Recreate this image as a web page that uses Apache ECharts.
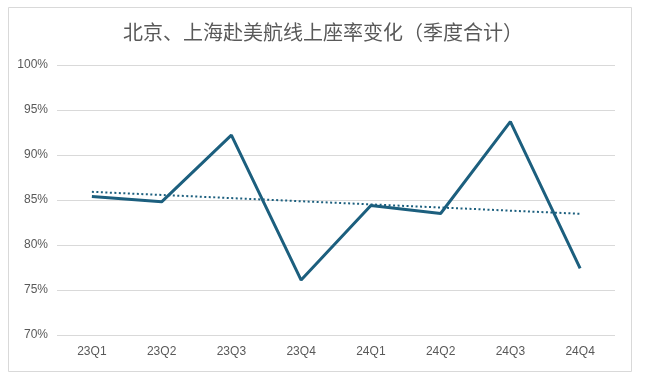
<!DOCTYPE html>
<html><head><meta charset="utf-8">
<script src="https://cdn.jsdelivr.net/npm/echarts@6/dist/echarts.min.js"></script>
<style>html,body{margin:0;padding:0;background:#fff}#c{width:646px;height:382px}</style>
</head><body><div id="c"></div>
<script>
const categories = ['23Q1','23Q2','23Q3','23Q4','24Q1','24Q2','24Q3','24Q4'];
const loadFactor = [85.4, 84.8, 92.2, 76.1, 84.4, 83.5, 93.7, 77.4];
const yTicks = [70, 75, 80, 85, 90, 95, 100];

// linear trendline (least squares) from the data, as in the original spreadsheet chart
const n = loadFactor.length;
const xm = (n + 1) / 2;
const ym = loadFactor.reduce((a, b) => a + b, 0) / n;
let sxy = 0, sxx = 0;
loadFactor.forEach((v, i) => { const dx = (i + 1) - xm; sxy += dx * v; sxx += dx * dx; });
const slope = sxy / sxx;
const trend = loadFactor.map((v, i) => +(ym + slope * ((i + 1) - xm)).toFixed(3));

const chart = echarts.init(document.getElementById('c'), null, {renderer: 'canvas'});
const font = '"Noto Sans CJK SC", "Noto Sans", sans-serif';
chart.setOption({
  animation: false,
  backgroundColor: '#ffffff',
  title: {
    text: '北京、上海赴美航线上座率变化（季度合计）',
    left: 'center', top: 17,
    textStyle: {color: '#595959', fontSize: 20, fontWeight: 'normal', fontFamily: font}
  },
  graphic: [{
    type: 'rect', shape: {x: 8.5, y: 7.5, width: 623, height: 364},
    style: {fill: 'none', stroke: '#d9d9d9', lineWidth: 1}, silent: true, z: -1
  }],
  grid: {left: 57, right: 31, top: 65, bottom: 47},
  xAxis: {
    type: 'category', data: categories, boundaryGap: true,
    axisLine: {show: false}, axisTick: {show: false},
    axisLabel: {color: '#595959', fontSize: 12, margin: 11, fontFamily: 'Liberation Sans, sans-serif'}
  },
  yAxis: {
    type: 'value', min: yTicks[0], max: yTicks[yTicks.length - 1], interval: 5,
    axisLine: {show: false}, axisTick: {show: false},
    axisLabel: {color: '#595959', fontSize: 12, margin: 9, formatter: '{value}%', fontFamily: 'Liberation Sans, sans-serif'},
    splitLine: {lineStyle: {color: '#d9d9d9', width: 1}}
  },
  series: [
    {
      type: 'line', data: loadFactor, symbol: 'none',
      lineStyle: {color: '#1c5f7e', width: 3}, z: 3
    },
    {
      type: 'line', data: trend, symbol: 'none',
      lineStyle: {color: '#1c5f7e', width: 2, type: [2, 2.5]}, z: 2
    }
  ]
});
</script></body></html>
